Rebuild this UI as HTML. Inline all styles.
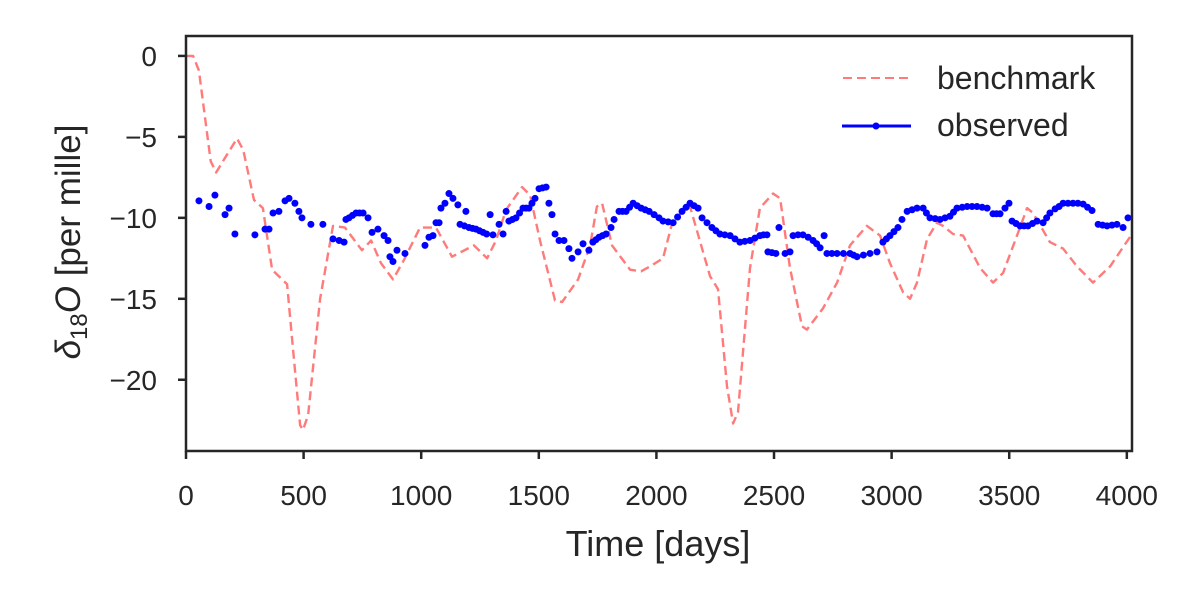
<!DOCTYPE html>
<html><head><meta charset="utf-8"><style>
body{margin:0;background:#fff;}
svg{display:block;font-family:"Liberation Sans","DejaVu Sans",sans-serif;}
</style></head><body>
<svg id="chart" width="1200" height="600">
<rect x="0" y="0" width="1200" height="600" fill="#fff"/>
<g id="plot"></g>
<g id="axes"></g>
<g id="legend">
 <line x1="843" y1="78" x2="910" y2="78" stroke="#ff7b7b" stroke-width="2" stroke-dasharray="9,5"/>
 <text x="937" y="89" font-size="32" fill="#262626">benchmark</text>
 <line x1="842" y1="126" x2="911" y2="126" stroke="#0000ff" stroke-width="3"/>
 <circle cx="876" cy="126" r="3.5" fill="#0000ff"/>
 <text x="937" y="136" font-size="32" fill="#262626">observed</text>
</g>
<text x="658" y="556" font-size="36" fill="#262626" text-anchor="middle">Time [days]</text>
<text transform="translate(80,242) rotate(-90)" font-size="35" fill="#262626" text-anchor="middle"><tspan font-style="italic">δ</tspan><tspan font-size="24" dy="7">18</tspan><tspan font-style="italic" dy="-7">O</tspan> [per mille]</text>
</svg>
<script>
const xTicks=[0,500,1000,1500,2000,2500,3000,3500,4000];
const yTicks=[0,-5,-10,-15,-20];
const yTickLabels=["0","\u22125","\u221210","\u221215","\u221220"];
const benchDays=[0,30,55,105,128,166,217,243,289,327,366,430,451,485,497,519,570,625,676,748,787,829,880,927,995,1063,1131,1224,1280,1318,1361,1429,1463,1505,1569,1599,1667,1718,1747,1769,1811,1888,1935,1973,2028,2071,2143,2228,2262,2300,2326,2347,2398,2440,2496,2526,2568,2619,2640,2708,2768,2823,2895,2951,2993,3049,3078,3108,3151,3193,3219,3261,3304,3376,3431,3474,3533,3576,3601,3673,3729,3788,3856,3929,4022];
const benchVals=[0,0,-0.9,-6.5,-7.2,-6.3,-5.1,-5.8,-8.9,-9.4,-13.2,-14.1,-17.5,-22.8,-23.1,-22.2,-15,-10.5,-10.6,-12,-11.4,-12.8,-13.8,-12.6,-10.6,-10.6,-12.4,-11.7,-12.5,-11.4,-9.5,-8.1,-8.6,-11.4,-15.1,-15.2,-13.8,-11.7,-9.3,-9.1,-11.7,-13.2,-13.3,-13,-12.5,-10.1,-9.3,-13.6,-14.4,-20.4,-22.7,-22,-13.1,-9.4,-8.5,-8.8,-13.1,-16.7,-16.9,-15.6,-14,-11.7,-10.5,-11.1,-12.8,-14.6,-15,-14,-11.3,-10.3,-10.5,-11,-11.1,-13.1,-14,-13.4,-11.1,-9.4,-9.7,-11.5,-11.9,-13,-14,-13,-11];
const obsDays=[55,98,123,166,183,208,293,336,353,370,395,421,438,463,480,493,531,582,625,651,672,680,693,708,723,738,753,774,791,816,842,859,867,880,897,931,1016,1033,1050,1063,1076,1084,1101,1118,1135,1156,1190,1165,1184,1203,1218,1233,1248,1263,1278,1293,1305,1331,1348,1361,1373,1388,1403,1418,1433,1446,1458,1471,1484,1501,1516,1531,1543,1556,1569,1586,1607,1628,1641,1667,1688,1713,1730,1743,1756,1771,1786,1807,1820,1841,1856,1871,1886,1901,1918,1935,1952,1969,1990,2011,2028,2050,2071,2090,2109,2126,2143,2160,2177,2194,2215,2236,2253,2270,2291,2313,2334,2355,2376,2398,2419,2440,2455,2470,2474,2491,2508,2521,2547,2568,2581,2602,2623,2645,2666,2681,2696,2713,2725,2746,2768,2795,2823,2838,2853,2880,2908,2938,2963,2978,2993,3010,3027,3044,3066,3087,3108,3134,3148,3163,3185,3206,3227,3248,3263,3278,3300,3321,3342,3363,3385,3406,3431,3446,3461,3482,3499,3512,3529,3546,3563,3580,3599,3618,3644,3659,3673,3695,3712,3729,3750,3771,3792,3814,3833,3852,3878,3897,3916,3937,3958,3984,4005];
const obsVals=[-8.95,-9.3,-8.6,-9.8,-9.4,-11,-11.05,-10.7,-10.7,-9.7,-9.6,-8.95,-8.8,-9.1,-9.6,-10,-10.4,-10.4,-11.3,-11.4,-11.5,-10.1,-10,-9.85,-9.7,-9.7,-9.7,-10,-10.9,-10.7,-11.1,-11.4,-12.4,-12.7,-12,-12.2,-11.7,-11.2,-11.1,-10.3,-10.3,-9.4,-9.1,-8.5,-8.8,-9.2,-9.6,-10.4,-10.5,-10.6,-10.65,-10.7,-10.8,-10.9,-11,-9.8,-11.05,-10.4,-11,-9.6,-10.2,-10.1,-10,-9.7,-9.4,-9.4,-9.4,-9.1,-8.8,-8.2,-8.15,-8.1,-9.1,-9.8,-11,-11.4,-11.4,-11.9,-12.5,-12.1,-11.6,-12,-11.5,-11.35,-11.2,-11.1,-11,-10.6,-10.1,-9.6,-9.6,-9.6,-9.35,-9.1,-9.25,-9.4,-9.5,-9.6,-9.8,-10,-10.2,-10.25,-10.3,-9.95,-9.6,-9.35,-9.1,-9.25,-9.4,-10,-10.3,-10.6,-10.8,-11,-11.05,-11.1,-11.3,-11.5,-11.45,-11.4,-11.25,-11.1,-11.05,-11.05,-12.1,-12.15,-12.2,-10.6,-12.2,-12.1,-11.1,-11.05,-11.05,-11.2,-11.4,-11.6,-11.85,-11.1,-12.2,-12.2,-12.2,-12.2,-12.2,-12.3,-12.4,-12.3,-12.2,-12.1,-11.5,-11.3,-11.1,-10.85,-10.6,-10.1,-9.6,-9.5,-9.4,-9.4,-9.7,-10,-10.05,-10.1,-10,-9.9,-9.65,-9.4,-9.35,-9.3,-9.3,-9.3,-9.35,-9.4,-9.75,-9.75,-9.75,-9.4,-9.1,-10.2,-10.35,-10.5,-10.5,-10.5,-10.35,-10.2,-10.3,-10,-9.7,-9.45,-9.3,-9.1,-9.1,-9.1,-9.1,-9.15,-9.35,-9.55,-10.4,-10.45,-10.5,-10.45,-10.4,-10.6,-10];
const NS='http://www.w3.org/2000/svg';
const L=186,R=1132,T=36,B=451,XMIN=0,XMAX=4022,YMIN=-24.4,YMAX=1.23;
function sx(v){return L+(v-XMIN)/(XMAX-XMIN)*(R-L);}
function sy(v){return B-(v-YMIN)/(YMAX-YMIN)*(B-T);}
function mk(tag,attrs,parent){const e=document.createElementNS(NS,tag);for(const k in attrs)e.setAttribute(k,attrs[k]);parent.appendChild(e);return e;}
const plot=document.getElementById('plot'),axes=document.getElementById('axes');
let d='';
benchDays.forEach((x,i)=>{d+=(i?'L':'M')+sx(x).toFixed(1)+','+sy(benchVals[i]).toFixed(1);});
const bl=mk('path',{d:d,fill:'none',stroke:'#ff7b7b','stroke-width':2.4,'stroke-dasharray':'9,5','stroke-linejoin':'round'},plot);


obsDays.forEach((x,i)=>{
 const c=mk('circle',{cx:sx(x),cy:sy(obsVals[i]),r:3.5,fill:'#0000ff'},plot);
 
 
});
const frame=mk('rect',{x:L,y:T,width:R-L,height:B-T,fill:'none',stroke:'#262626','stroke-width':2.5},axes);


xTicks.forEach(t=>{
 const x=sx(t);
 const tl=mk('line',{x1:x,y1:B,x2:x,y2:B+8,stroke:'#262626','stroke-width':2.5},axes);
 
 
 const tx=mk('text',{x:x,y:505,'font-size':28,fill:'#262626','text-anchor':'middle'},axes);
 tx.textContent=String(t);
 
 
});
yTicks.forEach((t,i)=>{
 const y=sy(t);
 const tl=mk('line',{x1:L-8,y1:y,x2:L,y2:y,stroke:'#262626','stroke-width':2.5},axes);
 
 
 const tx=mk('text',{x:157,y:y+10,'font-size':28,fill:'#262626','text-anchor':'end'},axes);
 tx.textContent=yTickLabels[i];
 
 
});
</script>
</body></html>
